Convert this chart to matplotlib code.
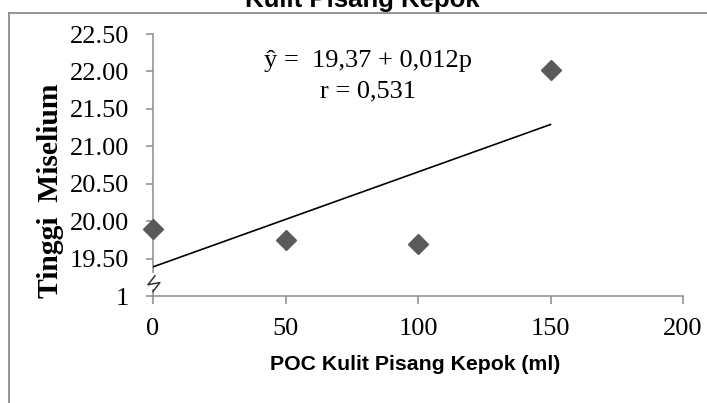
import matplotlib
matplotlib.use("Agg")

import matplotlib.pyplot as plt
from matplotlib.patches import Rectangle
from matplotlib.lines import Line2D
import numpy as np

# datos
dosis_poc = [0, 50, 100, 150]
tinggi_miselium = [19.89, 19.75, 19.70, 22.02]

y_ticks = [19.0, 19.5, 20.0, 20.5, 21.0, 21.5, 22.0, 22.5]
y_tick_labels = ["1", "19.50", "20.00", "20.50", "21.00", "21.50", "22.00", "22.50"]
x_ticks = [0, 50, 100, 150, 200]

ecuacion = "ŷ =  19,37 + 0,012p"
correlacion = "r = 0,531"

gris_eje = "#8c8c8c"
serif = ["Liberation Serif", "DejaVu Serif"]
sans = ["Liberation Sans", "DejaVu Sans"]

fig = plt.figure(figsize=(7.07, 4.03), dpi=100)
ax = fig.add_axes([153 / 707, 1 - 296 / 403, 530 / 707, 262 / 403])

# marco exterior del grafico (recortado a la derecha y abajo)
fig.add_artist(Line2D([9 / 707, 1.0], [1 - 13 / 403, 1 - 13 / 403],
                      transform=fig.transFigure, color=gris_eje, lw=1.3))
fig.add_artist(Line2D([9 / 707, 9 / 707], [0.0, 1 - 13 / 403],
                      transform=fig.transFigure, color=gris_eje, lw=1.3))

ax.plot(dosis_poc, tinggi_miselium, linestyle="none", marker="D",
        markersize=10.5, color="#5a5a5a", zorder=5, clip_on=False)

# linea de tendencia lineal
pendiente, intercepto = np.polyfit(dosis_poc, tinggi_miselium, 1)
x_lin = np.array([dosis_poc[0], dosis_poc[-1]])
ax.plot(x_lin, intercepto + pendiente * x_lin, color="black", lw=1.2, zorder=4)

ax.set_xlim(0, 200)
ax.set_ylim(19.0, 22.5)
ax.set_xticks(x_ticks)
ax.set_xticklabels([str(v) for v in x_ticks], family=serif, fontsize=19)
ax.set_yticks(y_ticks)
ax.set_yticklabels(y_tick_labels, family=serif, fontsize=19)
ax.tick_params(axis="y", direction="out", length=5, width=1.1, color=gris_eje, pad=12)
ax.tick_params(axis="x", direction="out", length=5.5, width=1.1, color=gris_eje, pad=10)

for lado in ["top", "right"]:
    ax.spines[lado].set_visible(False)
for lado in ["left", "bottom"]:
    ax.spines[lado].set_color(gris_eje)
    ax.spines[lado].set_linewidth(1.1)

# corte del eje y
ax.add_patch(Rectangle((-4, 19.09), 8, 0.22, facecolor="white", edgecolor="none",
                       zorder=3, clip_on=False))
ax.plot([0.75, -1.9, 2.6, 0.0], [19.27, 19.15, 19.18, 19.06], color="#333333",
        lw=1.1, zorder=4, clip_on=False)

ax.text(81, 22.06, ecuacion, family=serif, fontsize=19, ha="center", va="baseline")
ax.text(81, 21.65, correlacion, family=serif, fontsize=19, ha="center", va="baseline")

fig.text(415 / 707, 1 - 370 / 403, "POC Kulit Pisang Kepok (ml)", family=sans,
         fontweight="bold", fontsize=15.3, ha="center", va="baseline")
fig.text(362 / 707, 1 - 6.5 / 403, "Kulit Pisang Kepok", family=sans,
         fontweight="bold", fontsize=18.5, ha="center", va="baseline")
fig.text(51 / 707, 1 - 191 / 403, "Tinggi  Miselium", family=serif,
         fontweight="bold", fontsize=21.3, rotation=90, ha="center", va="center")

fig.savefig("out.png", dpi=100)
print("Grafica guardada como out.png")
